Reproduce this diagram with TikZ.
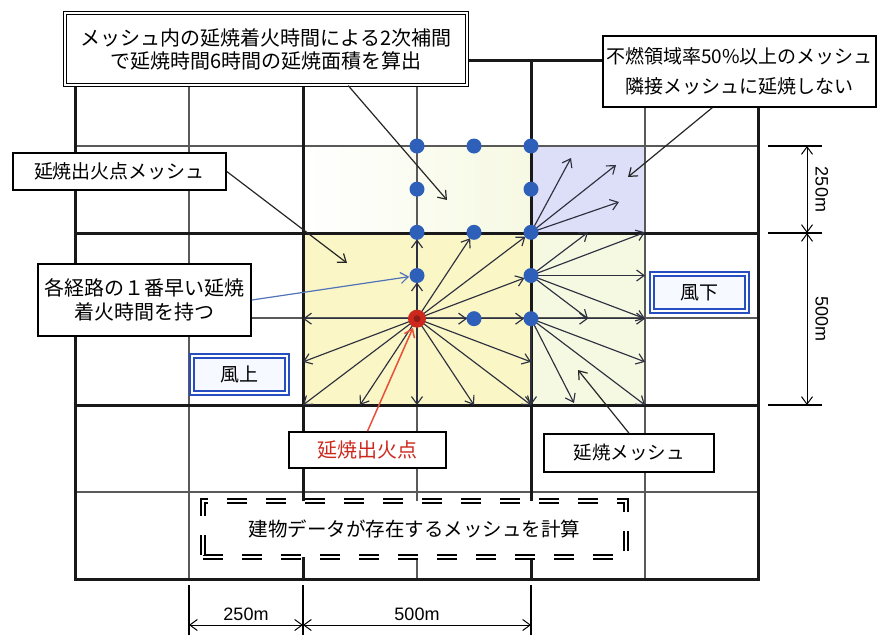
\documentclass[tikz,border=0pt]{standalone}
\usepackage{fontspec}
\setmainfont{Noto Sans CJK JP}
\newfontfamily\dimfont{Liberation Sans}
\usepackage{xcolor}
\usetikzlibrary{arrows.meta, positioning}

\definecolor{meshyellow}{RGB}{250,246,198}
\definecolor{paleyellow}{RGB}{246,249,226}
\definecolor{lavender}{RGB}{221,223,248}
\definecolor{dotblue}{RGB}{46,96,186}
\definecolor{firered}{RGB}{205,40,30}
\definecolor{leadblue}{RGB}{80,115,185}
\definecolor{leadred}{RGB}{232,80,60}
\definecolor{arrowgray}{RGB}{45,48,62}
\definecolor{windblue}{RGB}{38,78,192}
\definecolor{windfill}{RGB}{246,249,255}

\begin{document}
\begin{tikzpicture}[x=1pt, y=-1pt, >={Straight Barb[length=7.5pt,width=11pt]},
    thinline/.style={line width=1.1pt, black!65},
    thickline/.style={line width=3pt, black!90},
    spreadarrow/.style={->, line width=1.15pt, arrowgray},
    leader/.style={->, line width=1.2pt, black!85},
    note/.style={draw, line width=1.6pt, fill=white, inner sep=0pt, align=center},
    dnote/.style={note, double, double distance=2.4pt, line width=1.2pt},
    windbox/.style={draw=windblue, double=white, double distance=2pt, line width=2pt,
        fill=windfill, inner sep=0pt, align=center},
    dashbox/.style={note, double, double distance=2pt, line width=1.8pt, dash pattern=on 20pt off 19pt},
    dimline/.style={<->, line width=1pt},
    dimlabel/.style={font=\dimfont\fontsize{18}{18}\selectfont, inner sep=2pt}]
    \useasboundingbox (0,0) rectangle (878,635);

    % 格子点 (250m/2 間隔)
    \foreach \i in {0,...,6}
        \foreach \j in {0,...,6}
            \coordinate (p\i\j) at ({303+57*\i},{146+43.17*\j});
    \coordinate (O) at (p24);

    % メッシュの塗り
    \fill[meshyellow] (303,233) rectangle (531,405);
    \fill[paleyellow] (531,233) rectangle (645,405);
    \shade[left color=white, right color=paleyellow] (303,146) rectangle (531,233);
    \fill[lavender] (531,146) rectangle (645,233);

    % 格子線
    \foreach \x in {189,417,645} \draw[thinline] (\x,60) -- (\x,579);
    \foreach \y in {146,318,492} \draw[thinline] (75,\y) -- (758,\y);
    \foreach \x in {303,531} \draw[thickline] (\x,60) -- (\x,579);
    \foreach \y in {233,405} \draw[thickline] (75,\y) -- (758,\y);
    \draw[thickline] (75,60) rectangle (758,579);

    % 延焼出火点からの経路
    \foreach \t in {p04,p05,p06,p16,p26,p36,p46,p45}
        \draw[spreadarrow] (O) -- (\t);
    \foreach \t in {p23,p32,p42,p43,p34}
        \draw[spreadarrow, shorten >=7pt] (O) -- (\t);
    \draw[spreadarrow, shorten >=7pt] (p23) -- (p22);
    \draw[spreadarrow, shorten >=7pt] (p34) -- (p44);

    % 隣接メッシュへの経路
    \coordinate (q1) at (574,403);
    \coordinate (r1) at (571,158);
    \coordinate (r2) at (616,165);
    \coordinate (r3) at (619,202);
    \foreach \t in {p52,p62,p63,p64,p54}
        \draw[spreadarrow] (p43) -- (\t);
    \foreach \t in {p54,p64,p65,p66,p46,q1}
        \draw[spreadarrow] (p44) -- (\t);
    \foreach \t in {r1,r2,r3}
        \draw[spreadarrow] (p42) -- (\t);

    % 延焼着火時間を持つ点
    \foreach \n in {p20,p30,p40,p21,p41,p22,p32,p42,p23,p43,p34,p44}
        \fill[dotblue] (\n) circle[radius=7.5];
    \fill[firered] (O) circle[radius=9];
    \fill[firered!70!black] (O) circle[radius=3.5];

    % 説明の枠
    \node[dnote, minimum width=402pt, minimum height=72pt, font=\fontsize{20}{23}\selectfont]
        (hokanbox) at (266,49) {メッシュ内の延焼着火時間による2次補間\\で延焼時間6時間の延焼面積を算出};
    \node[note, minimum width=273pt, minimum height=71pt, font=\fontsize{19}{30}\selectfont]
        (funenbox) at (739.5,71.5) {不燃領域率50\%以上のメッシュ\\隣接メッシュに延焼しない};
    \node[note, minimum width=213pt, minimum height=37pt, font=\fontsize{19}{23}\selectfont]
        (meshbox) at (119.5,171.5) {延焼出火点メッシュ};
    \node[note, minimum width=213pt, minimum height=72pt, font=\fontsize{20}{24}\selectfont]
        (keirobox) at (144.5,300) {各経路の１番早い延焼\\着火時間を持つ};
    \node[windbox, minimum width=95pt, minimum height=37pt, font=\fontsize{19}{23}\selectfont]
        (kazakami) at (239.5,374.5) {風上};
    \node[windbox, minimum width=95pt, minimum height=37pt, font=\fontsize{19}{23}\selectfont]
        (kazashimo) at (699.5,292.5) {風下};
    \node[note, minimum width=157pt, minimum height=36pt, text=firered, font=\fontsize{20}{23}\selectfont]
        (shukkabox) at (367.5,450) {延焼出火点};
    \node[note, minimum width=170pt, minimum height=38pt, font=\fontsize{18.5}{23}\selectfont]
        (enshobox) at (629,453) {延焼メッシュ};
    \node[dashbox, minimum width=423pt, minimum height=56pt, font=\fontsize{19.5}{23}\selectfont]
        (tatemono) at (414.5,529) {建物データが存在するメッシュを計算};

    % 引出線
    \coordinate (hokan) at (447,200);
    \coordinate (funen) at (628,177);
    \coordinate (mesh) at (347,263);
    \coordinate (ensho) at (578,370);
    \draw[leader] (hokanbox.-24) -- (hokan);
    \draw[leader] (funenbox.-127) -- (funen);
    \draw[leader] (meshbox.east) -- (mesh);
    \draw[leader, leadblue, shorten >=8pt] (keirobox.east) -- (p23);
    \draw[leader, leadred, line width=1.5pt, shorten >=10pt] (shukkabox.north) -- (O);
    \draw[leader] (enshobox.north) -- (ensho);

    % 寸法線
    \foreach \x in {189,303,531} \draw[line width=1.2pt] (\x,585) -- (\x,635);
    \foreach \y in {146,233,405} \draw[line width=1.2pt] (768,\y) -- (822,\y);
    \coordinate (dx0) at (189,625);
    \coordinate (dx1) at (303,625);
    \coordinate (dx2) at (531,625);
    \coordinate (dy0) at (807,146);
    \coordinate (dy1) at (807,233);
    \coordinate (dy2) at (807,405);
    \draw[dimline] (dx0) -- node[dimlabel, above=2pt] {250m} (dx1);
    \draw[dimline] (dx1) -- node[dimlabel, above=2pt] {500m} (dx2);
    \draw[dimline] (dy0) -- node[dimlabel, sloped, above=6pt] {250m} (dy1);
    \draw[dimline] (dy1) -- node[dimlabel, sloped, above=6pt] {500m} (dy2);
\end{tikzpicture}
\end{document}
